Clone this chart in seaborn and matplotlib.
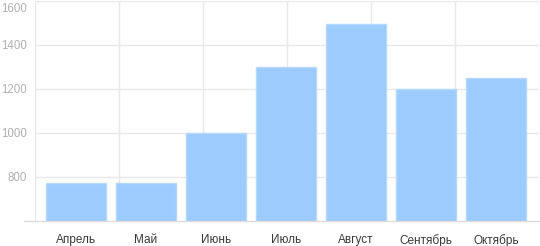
import numpy as np
import pandas as pd
import matplotlib
matplotlib.use("Agg")
import matplotlib.pyplot as plt
import matplotlib.transforms as mtransforms
import seaborn as sns

months = ["Апрель", "Май", "Июнь", "Июль", "Август", "Сентябрь", "Октябрь"]
values = [772, 772, 997, 1298, 1495, 1200, 1247]
y_ticks = [800, 1000, 1200, 1400, 1600]

sns.set_theme(style="white")
plt.rcParams['font.family'] = ['Liberation Sans', 'DejaVu Sans']

W, H = 540, 246
fig = plt.figure(figsize=(W / 100, H / 100), dpi=100)
left_px, right_px, top_px, bottom_px = 35, 539, 1, 220.5
ax = fig.add_axes([left_px / W, 1 - bottom_px / H, (right_px - left_px) / W, (bottom_px - top_px) / H])

df = pd.DataFrame({"month": months, "value": values})
sns.barplot(data=df, x="month", y="value", ax=ax, color="#9ccbff", saturation=1,
            width=60 / 70, edgecolor="#b5d8ff", linewidth=1, zorder=3)

xl = (-(76 - 35) / 70, 6 + (539 - 496) / 70)
ax.set_xlim(*xl)
ax.set_ylim(600, 1600)

# grid
for y in y_ticks:
    ax.axhline(y, color="#e9e9e9", lw=1, zorder=1)
for xv in np.linspace(xl[0], xl[1], 7):
    ax.axvline(xv, color="#e9e9e9", lw=1, zorder=1)
ax.axhline(600, xmin=-11 / 504, xmax=1, color="#dcdcdc", lw=1, clip_on=False, zorder=4)

for s in ax.spines.values():
    s.set_visible(False)

ax.set_yticks(y_ticks)
ax.set_yticklabels([str(v) for v in y_ticks], color="#b0b0b0", fontsize=8.3)
ax.tick_params(axis="y", length=0, pad=6)
ax.tick_params(axis="x", length=0, pad=10, labelsize=8.5, labelcolor="#3a3a3a")
ax.set_xlabel("")
ax.set_ylabel("")

# keep the top label inside the figure (shifted down like the reference)
top_lbl = ax.get_yticklabels()[-1]
top_lbl.set_transform(top_lbl.get_transform() + mtransforms.ScaledTranslation(0, -6 / 100, fig.dpi_scale_trans))

fig.savefig("out.png", dpi=100)
